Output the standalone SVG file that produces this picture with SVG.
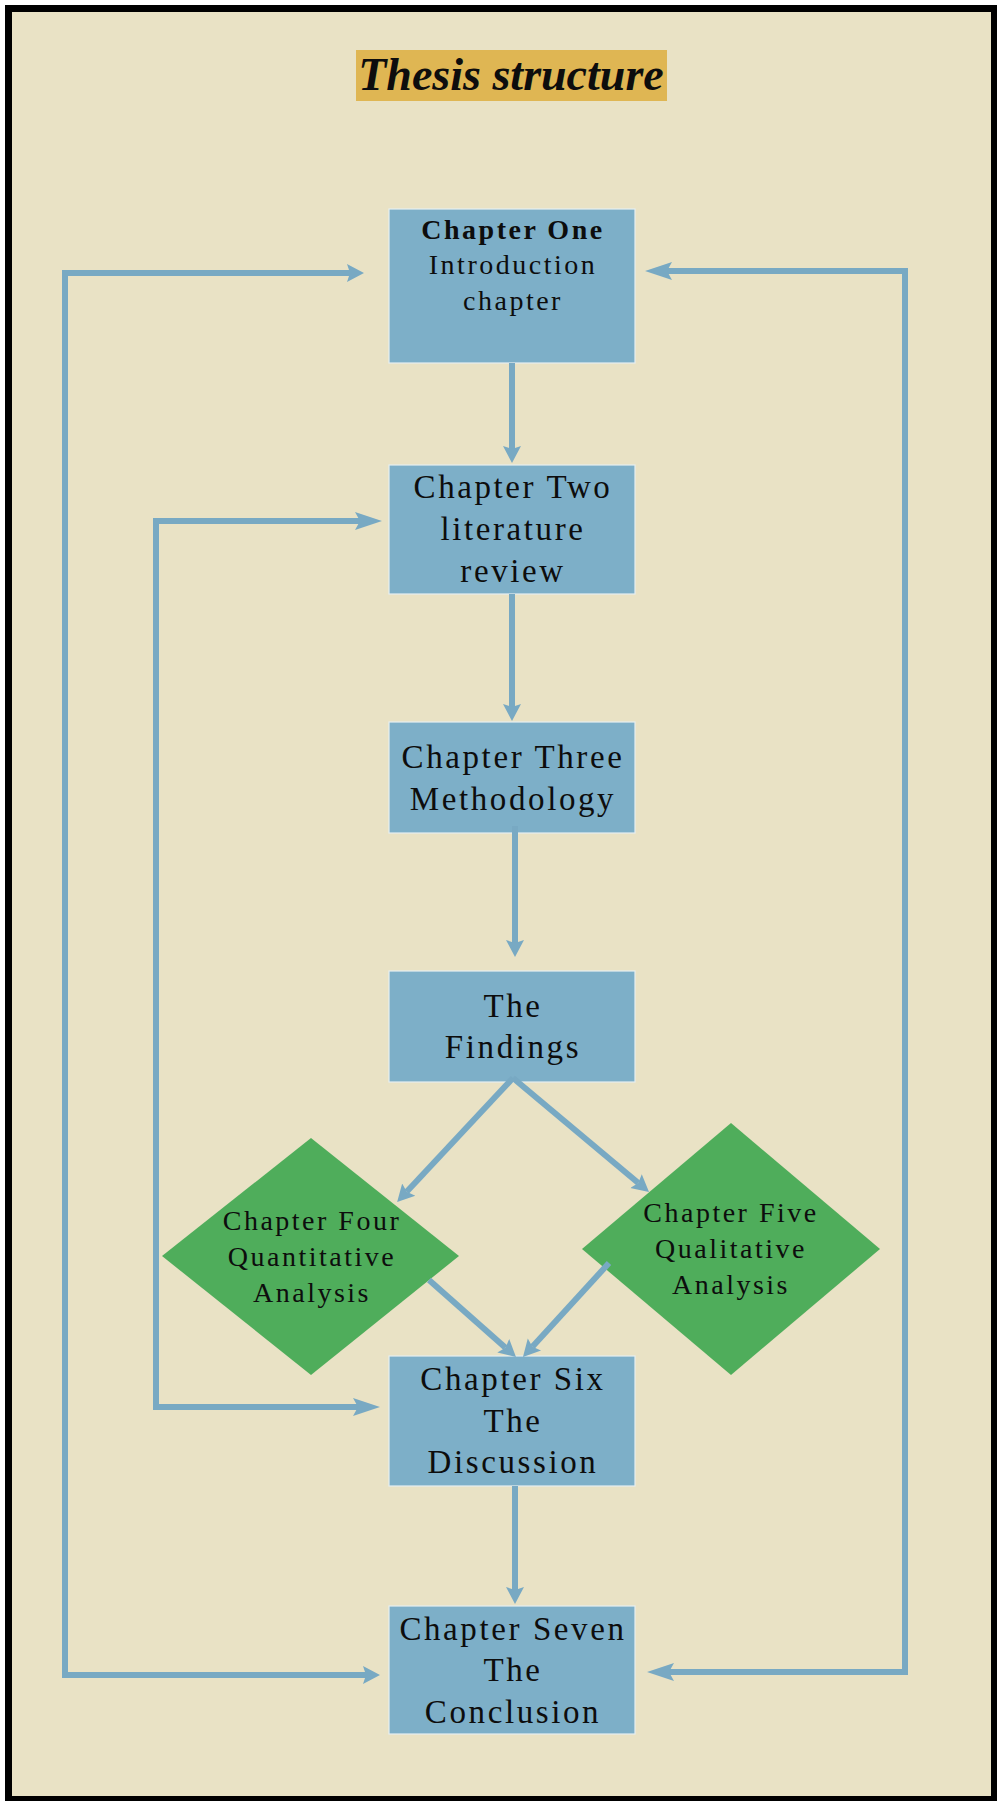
<svg xmlns="http://www.w3.org/2000/svg" width="997" height="1801" viewBox="0 0 997 1801">
  <style>
    .box { fill: #7DAFC8; stroke: #E6EEF0; stroke-width: 1.2; }
    .dia { fill: #4FAD5B; }
    .lbl { font-family: "Liberation Serif", "Times New Roman", serif; fill: #0D0D0D; text-anchor: middle; }
    .big { font-size: 33px; letter-spacing: 2.6px; }
    .small { font-size: 28px; letter-spacing: 2.5px; }
    .edge { fill: none; stroke: #78A9C3; stroke-width: 6; stroke-linejoin: miter; }
  </style>
  <defs>
    <marker id="headShort" markerUnits="userSpaceOnUse" viewBox="0 -10 18 20" refX="3" refY="0" markerWidth="18" markerHeight="20" orient="auto-start-reverse">
      <path d="M0,-9 L17,0 L0,9 L3,0 Z" fill="#78A9C3"/>
    </marker>
    <marker id="headLong" markerUnits="userSpaceOnUse" viewBox="0 -10 28 20" refX="5" refY="0" markerWidth="28" markerHeight="20" orient="auto-start-reverse">
      <path d="M0,-9 L27,0 L0,9 L5,0 Z" fill="#78A9C3"/>
    </marker>
  </defs>

  <!-- page frame -->
  <rect x="8.5" y="8.5" width="986" height="1791" fill="#E9E2C5" stroke="#000" stroke-width="7"/>

  <!-- title -->
  <g id="title">
    <rect x="356" y="50" width="311" height="51" fill="#DFB653"/>
    <text class="lbl" x="511" y="90" font-size="46" font-weight="bold" font-style="italic">Thesis structure</text>
  </g>

  <!-- nodes -->
  <g id="ch1">
    <rect class="box" x="389" y="209" width="246" height="154"/>
    <text class="lbl small" x="513" y="239" font-weight="bold">Chapter One</text>
    <text class="lbl small" x="513" y="274">Introduction</text>
    <text class="lbl small" x="513" y="310">chapter</text>
  </g>
  <g id="ch2">
    <rect class="box" x="389" y="465" width="246" height="129"/>
    <text class="lbl big" x="513" y="498">Chapter Two</text>
    <text class="lbl big" x="513" y="540">literature</text>
    <text class="lbl big" x="513" y="582">review</text>
  </g>
  <g id="ch3">
    <rect class="box" x="389" y="722" width="246" height="111"/>
    <text class="lbl big" x="513" y="768">Chapter Three</text>
    <text class="lbl big" x="513" y="810">Methodology</text>
  </g>
  <g id="findings">
    <rect class="box" x="389" y="971" width="246" height="111"/>
    <text class="lbl big" x="513" y="1017">The</text>
    <text class="lbl big" x="513" y="1058">Findings</text>
  </g>
  <g id="ch4">
    <polygon class="dia" points="311,1138 459,1256 311,1375 162,1256"/>
    <text class="lbl small" x="312" y="1230">Chapter Four</text>
    <text class="lbl small" x="312" y="1266">Quantitative</text>
    <text class="lbl small" x="312" y="1302">Analysis</text>
  </g>
  <g id="ch5">
    <polygon class="dia" points="731,1123 880,1249 731,1375 582,1249"/>
    <text class="lbl small" x="731" y="1222">Chapter Five</text>
    <text class="lbl small" x="731" y="1258">Qualitative</text>
    <text class="lbl small" x="731" y="1294">Analysis</text>
  </g>
  <g id="ch6">
    <rect class="box" x="389" y="1356" width="246" height="130"/>
    <text class="lbl big" x="513" y="1390">Chapter Six</text>
    <text class="lbl big" x="513" y="1432">The</text>
    <text class="lbl big" x="513" y="1473">Discussion</text>
  </g>
  <g id="ch7">
    <rect class="box" x="389" y="1606" width="246" height="128"/>
    <text class="lbl big" x="513" y="1640">Chapter Seven</text>
    <text class="lbl big" x="513" y="1681">The</text>
    <text class="lbl big" x="513" y="1723">Conclusion</text>
  </g>

  <!-- connectors -->
  <g id="connectors">
    <path class="edge" d="M512,363 V449" marker-end="url(#headShort)"/>
    <path class="edge" d="M512,594 V707" marker-end="url(#headShort)"/>
    <path class="edge" d="M515,826 V943" marker-end="url(#headShort)"/>
    <path class="edge" d="M513,1078 L406.7,1191.8" marker-end="url(#headShort)"/>
    <path class="edge" d="M513,1078 L638.3,1183" marker-end="url(#headShort)"/>
    <path class="edge" d="M429,1280 L505.5,1347.7" marker-end="url(#headShort)"/>
    <path class="edge" d="M609,1263 L532.4,1346.7" marker-end="url(#headShort)"/>
    <path class="edge" d="M515,1486 V1590" marker-end="url(#headShort)"/>
    <!-- return loops -->
    <path class="edge" d="M350,273 H65 V1675 H366" marker-start="url(#headShort)" marker-end="url(#headShort)"/>
    <path class="edge" d="M667,271 H905 V1672 H669" marker-start="url(#headLong)" marker-end="url(#headLong)"/>
    <path class="edge" d="M360,521 H156 V1407 H358" marker-start="url(#headLong)" marker-end="url(#headLong)"/>
  </g>
</svg>
